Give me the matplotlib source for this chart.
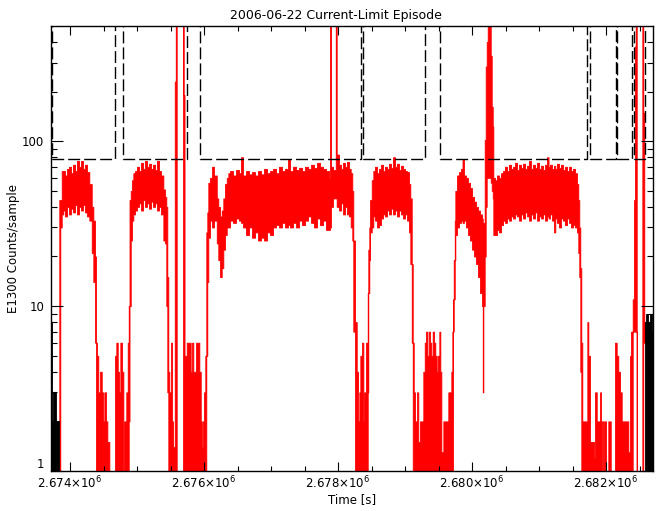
import numpy as np
import matplotlib
matplotlib.use("Agg")
import matplotlib.pyplot as plt
from matplotlib.ticker import FixedLocator, MultipleLocator, NullFormatter

T0 = 2673000.0  # offsets below are seconds after T0

# red trace: start of each segment [s after T0], min and max counts in it
red_t = [840, 855, 876, 900, 925, 955, 985, 1015, 1045, 1075, 1104, 1134, 1164, 1194, 1224, 1254, 1288, 1324, 1348, 1373,
         1388, 1403, 1422, 1448, 1473, 1493, 1512, 1537, 1557, 1587, 1672, 1691, 1712, 1731, 1751, 1776, 1796, 1810, 1840, 1861,
         1876, 1888, 1906, 1925, 1945, 1970, 2000, 2030, 2060, 2090, 2119, 2149, 2179, 2209, 2239, 2269, 2298, 2328, 2358, 2393,
         2418, 2437, 2452, 2467, 2482, 2507, 2522, 2537, 2563, 2578, 2592, 2687, 2697, 2709, 2742, 2801, 2821, 2840, 2881, 2930,
         2951, 2966, 2981, 3000, 3019, 3034, 3049, 3064, 3090, 3119, 3149, 3190, 3213, 3239, 3264, 3288, 3313, 3339, 3363, 3388,
         3433, 3478, 3522, 3552, 3582, 3627, 3672, 3716, 3761, 3806, 3851, 3895, 3940, 3985, 4030, 4075, 4119, 4164, 4209, 4254,
         4283, 4328, 4373, 4418, 4463, 4507, 4552, 4597, 4642, 4687, 4731, 4776, 4821, 4866, 4880, 4895, 4925, 4966, 4980, 5015,
         5045, 5075, 5104, 5134, 5164, 5189, 5213, 5228, 5254, 5279, 5298, 5318, 5333, 5358, 5378, 5392, 5418, 5433, 5443, 5452,
         5467, 5478, 5503, 5527, 5552, 5582, 5612, 5642, 5672, 5701, 5731, 5761, 5791, 5821, 5851, 5880, 5910, 5940, 5970, 6000,
         6030, 6060, 6079, 6100, 6115, 6130, 6149, 6179, 6198, 6224, 6273, 6294, 6313, 6333, 6354, 6373, 6392, 6413, 6433, 6452,
         6473, 6492, 6512, 6527, 6542, 6572, 6646, 6691, 6706, 6716, 6727, 6742, 6751, 6776, 6806, 6836, 6858, 6880, 6910, 6940,
         6970, 7000, 7030, 7060, 7089, 7119, 7149, 7160, 7169, 7189, 7204, 7219, 7234, 7279, 7294, 7309, 7318, 7343, 7373, 7403,
         7433, 7463, 7492, 7522, 7552, 7582, 7612, 7642, 7671, 7701, 7731, 7761, 7791, 7821, 7851, 7880, 7910, 7940, 7970, 8000,
         8030, 8060, 8089, 8119, 8142, 8164, 8194, 8224, 8243, 8268, 8298, 8328, 8358, 8388, 8418, 8448, 8477, 8507, 8537, 8567,
         8586, 8601, 8616, 8631, 8646, 8686, 8721, 8736, 8761, 8821, 8836, 8861, 8910, 8925, 8936, 8960, 8974, 9000, 9034, 9070,
         9134, 9159, 9183, 9209, 9234, 9333, 9358, 9373, 9398, 9418, 9433, 9443, 9458, 9542, 9556, 9571]
red_end = 9582
red_lo = [1, 30, 36, 38, 35, 40, 36, 39, 37, 41, 36, 40, 38, 41, 37, 35, 33, 21, 14, 6,
          1, 1, 1, 1, 1, 1, 1, 1, 1, 1, 1, 1, 1, 1, 1, 1, 1, 1, 1, 1,
          2, 10, 25, 33, 36, 38, 40, 42, 38, 44, 40, 42, 39, 43, 40, 42, 38, 40, 36, 25,
          24, 10, 3, 1, 1, 1, 1, 1, 1, 1, 1, 1, 1, 1, 1, 1, 1, 1, 1, 1,
          1, 1, 1, 1, 1, 5, 14, 26, 33, 30, 33, 24, 19, 15, 17, 22, 27, 30, 30, 33,
          32, 34, 33, 32, 30, 27, 30, 26, 28, 25, 26, 25, 28, 27, 30, 31, 30, 32, 30, 31,
          30, 32, 30, 33, 31, 33, 35, 32, 30, 34, 31, 33, 29, 29, 30, 40, 45, 45, 40, 38,
          42, 36, 40, 36, 35, 30, 25, 7, 1, 1, 1, 1, 1, 1, 1, 1, 1, 1, 3, 12,
          19, 28, 30, 35, 33, 30, 31, 34, 36, 35, 38, 36, 39, 36, 38, 35, 38, 36, 34, 36,
          33, 28, 18, 6, 1, 1, 1, 1, 1, 1, 1, 1, 1, 1, 1, 1, 1, 1, 1, 1,
          1, 1, 1, 1, 1, 1, 1, 1, 1, 7, 11, 19, 27, 30, 32, 33, 32, 33, 30, 27,
          25, 22, 20, 18, 15, 12, 10, 3, 10, 20, 40, 60, 60, 56, 50, 45, 27, 27, 29, 28,
          31, 33, 32, 34, 33, 35, 34, 36, 35, 33, 36, 34, 37, 35, 33, 36, 34, 37, 33, 35,
          34, 36, 33, 35, 34, 36, 33, 28, 34, 32, 30, 34, 33, 31, 34, 32, 30, 31, 30, 28,
          21, 15, 4, 1, 1, 1, 1, 1, 1, 1, 1, 1, 1, 1, 1, 1, 1, 1, 1, 1,
          1, 1, 1, 1, 1, 1, 1, 1, 7, 7, 7, 7, 1, 1, 6, 6]
red_hi = [44, 44, 66, 66, 62, 68, 70, 64, 72, 66, 76, 70, 76, 68, 72, 65, 55, 40, 33, 20,
          6, 5, 3, 4, 3, 2, 3, 2, 1.5, 1, 5, 6, 4, 3, 6, 4, 1, 2, 3, 6,
          10, 44, 50, 58, 64, 66, 70, 66, 74, 68, 76, 70, 73, 68, 72, 67, 76, 66, 62, 51,
          46, 40, 15, 4, 3, 6, 2, 1.4, 230, 900, 1, 900, 191, 5, 6, 4, 6, 4, 6, 4,
          2, 1.4, 2, 3, 5, 28, 37, 56, 60, 70, 62, 45, 40, 35, 38, 45, 55, 60, 64, 66,
          62, 67, 64, 80, 62, 66, 63, 65, 62, 66, 63, 68, 64, 66, 68, 64, 70, 66, 68, 78,
          66, 70, 67, 69, 66, 70, 68, 72, 69, 74, 70, 68, 66, 60, 900, 70, 67, 900, 83, 72,
          68, 74, 70, 75, 68, 64, 50, 25, 8, 4, 2, 3, 5, 6, 2, 3, 6, 3, 12, 22,
          30, 44, 58, 66, 70, 64, 68, 72, 66, 70, 68, 73, 69, 80, 70, 73, 67, 71, 68, 66,
          65, 55, 45, 18, 6, 3, 2, 3, 1.5, 2, 4, 6, 7, 5, 7, 6, 5, 7, 6, 5,
          4, 5, 7, 4, 1.3, 2, 3, 4, 7, 11, 19, 33, 50, 62, 65, 68, 78, 62, 60, 56,
          52, 46, 43, 40, 38, 36, 34, 30, 32, 102, 284, 400, 900, 330, 162, 123, 60, 58, 62, 60,
          64, 66, 70, 66, 72, 68, 70, 74, 67, 72, 69, 73, 68, 71, 76, 68, 72, 69, 74, 68,
          71, 67, 72, 80, 70, 72, 68, 71, 68, 73, 69, 72, 67, 70, 66, 70, 66, 68, 64, 55,
          44, 30, 17, 6, 2, 2, 8, 5, 1.5, 1.2, 3, 2, 3, 1, 2, 1, 2, 1, 2, 1,
          6, 5, 4, 3, 2, 1.3, 5, 7, 11, 44, 376, 900, 1, 900, 149, 8]

# black trace (outside the episode)
blk_t = [716, 731, 746, 791, 9582, 9597, 9627, 9657, 9682]
blk_end = [731, 746, 791, 840, 9597, 9627, 9657, 9682, 9701]
blk_lo = [1, 1, 1, 1, 1, 1, 1, 1, 1]
blk_hi = [8, 2, 3, 2, 8, 9, 8, 9, 7]

# dashed current-limit threshold (high = not in effect)
thr_t = [716, 731, 1672, 1787, 2746, 2940, 5339, 5373, 6298, 6522, 8712, 8761, 9145, 9171, 9383, 9410, 9582, 9701]
thr_v = [1e4, 78, 1e4, 78, 1e4, 78, 1e4, 78, 1e4, 78, 1e4, 78, 1e4, 78, 1e4, 78, 1e4, 1e4]

xtick_vals = [2674000, 2676000, 2678000, 2680000, 2682000]
xtick_labels = ["2.674\u00d710$^{6}$", "2.676\u00d710$^{6}$", "2.678\u00d710$^{6}$",
                "2.680\u00d710$^{6}$", "2.682\u00d710$^{6}$"]
ytick_vals = [1, 10, 100]
ytick_labels = ["1", "10", "100"]

fig = plt.figure(figsize=(6.64, 5.11), dpi=100)
ax = fig.add_axes([51 / 664, 1 - 471 / 511, 602 / 664, 445 / 511])

x = T0 + np.append(red_t, red_end)
lo = np.append(red_lo, red_lo[-1])
hi = np.append(red_hi, red_hi[-1])
ax.fill_between(x, lo, hi, step="post", color="red", lw=0.6, edgecolor="red")

for t0, t1, a, b in zip(blk_t, blk_end, blk_lo, blk_hi):
    ax.fill_between([T0 + t0, T0 + t1], [a, a], [b, b], color="black", lw=0.6, edgecolor="black")

ax.plot(T0 + np.array(thr_t), thr_v, color="black", lw=1.0, drawstyle="steps-post",
        dashes=(8.6, 2.9), zorder=4)

ax.set_yscale("log")
ax.set_xlim(2673716, 2682701)
ax.set_ylim(1, 500)

ax.xaxis.set_major_locator(FixedLocator(xtick_vals))
ax.set_xticklabels(xtick_labels)
ax.xaxis.set_minor_locator(MultipleLocator(500))
ax.yaxis.set_major_locator(FixedLocator(ytick_vals))
ax.set_yticklabels(ytick_labels)
ax.yaxis.set_minor_locator(FixedLocator([2, 3, 4, 5, 6, 7, 8, 9, 20, 30, 40, 50, 60, 70, 80, 90, 200, 300, 400]))
ax.yaxis.set_minor_formatter(NullFormatter())

ax.tick_params(which="both", direction="in", top=True, right=True, width=0.8, labelsize=8.5, colors="black")
ax.tick_params(axis="x", which="major", length=6.5, pad=3)
ax.tick_params(axis="x", which="minor", length=3.3)
ax.tick_params(axis="y", which="major", length=8.6, pad=5)
ax.tick_params(axis="y", which="minor", length=4.5)
ax.get_yticklabels()[0].set_verticalalignment("bottom")
for s in ax.spines.values():
    s.set_linewidth(1.0)
    s.set_zorder(5)

fig.text(336 / 664, 1 - 16 / 511, "2006-06-22 Current-Limit Episode", fontsize=9, ha="center", va="center")
ax.set_xlabel("Time [s]", fontsize=8.5, labelpad=1)
ax.set_ylabel("E1300 Counts/sample", fontsize=8.5, labelpad=1)

fig.savefig("out.png", dpi=100)
